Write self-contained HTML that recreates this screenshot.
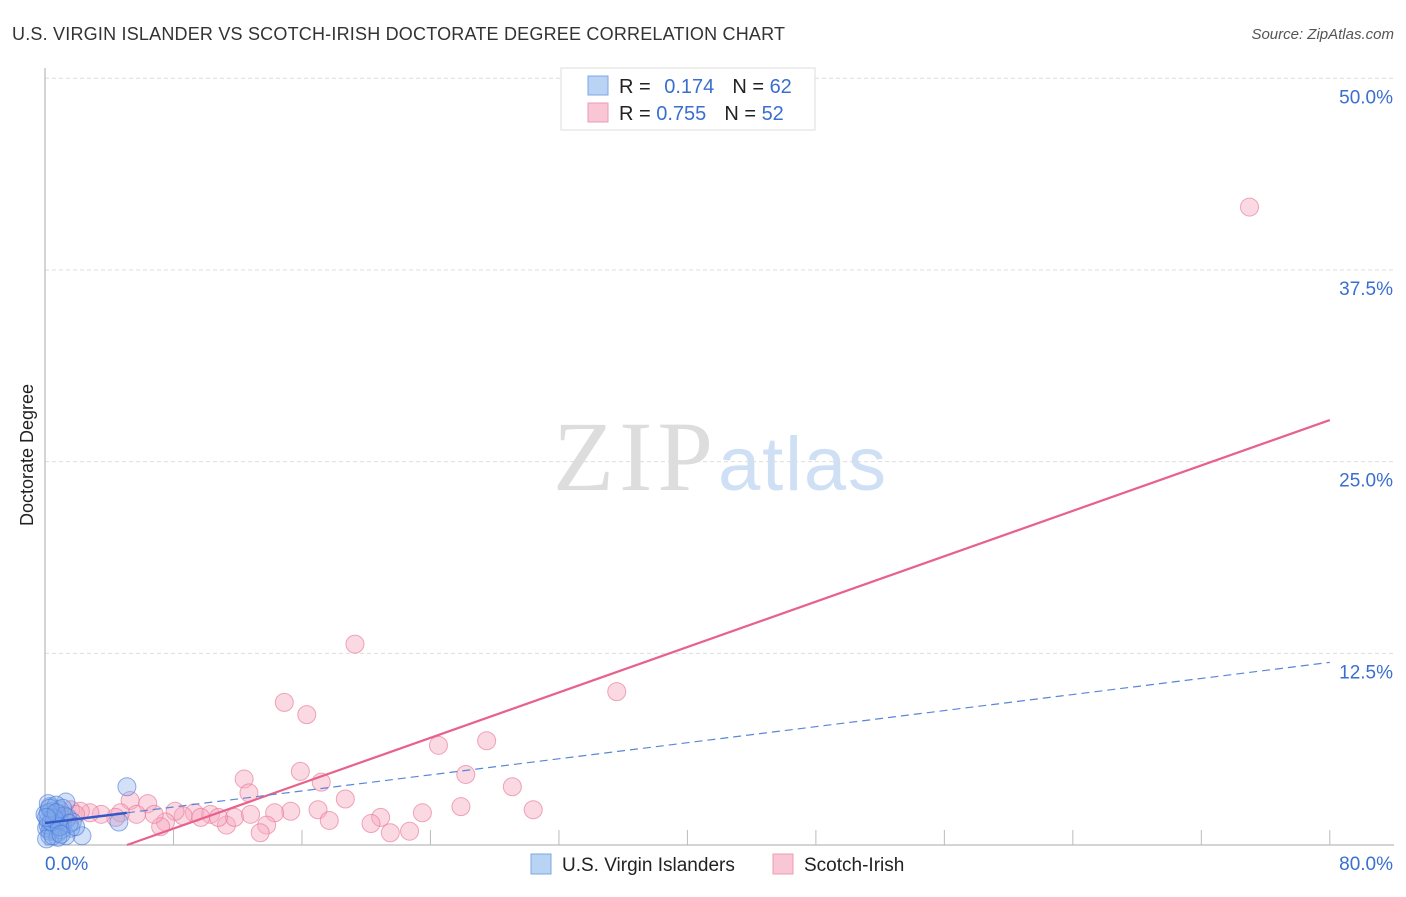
<!DOCTYPE html>
<html><head><meta charset="utf-8"><style>
body{margin:0;background:#fff;width:1406px;height:892px;overflow:hidden;font-family:"Liberation Sans",sans-serif}
</style></head><body>
<svg width="1406" height="892" xmlns="http://www.w3.org/2000/svg">
<text x="12" y="40" font-size="18" fill="#333" textLength="773">U.S. VIRGIN ISLANDER VS SCOTCH-IRISH DOCTORATE DEGREE CORRELATION CHART</text>
<text x="1394" y="39" font-size="15" font-style="italic" fill="#555" text-anchor="end">Source: ZipAtlas.com</text>
<text x="33" y="455" font-size="18" fill="#222" text-anchor="middle" transform="rotate(-90 33 455)">Doctorate Degree</text>
<text x="553" y="490" font-size="100" font-family="Liberation Serif,serif" fill="#ddd" textLength="160">ZIP</text>
<text x="718" y="490" font-size="76" fill="#cfe0f5" textLength="168">atlas</text>
<g id="grid"></g><g id="axes"></g><g id="pts"></g><g id="lines"></g>
<g>
<rect x="561" y="68" width="254" height="62" fill="#fff" stroke="#ddd"/>
<rect x="588" y="76" width="20" height="19" fill="#b9d3f5" stroke="#7aa7e6"/>
<rect x="588" y="103" width="20" height="19" fill="#f8c6d4" stroke="#ee9bb4"/>
<text x="619" y="93" font-size="20" fill="#222">R = <tspan fill="#3a6fcf" dx="8">0.174</tspan><tspan fill="#222" dx="18">N = </tspan><tspan fill="#3a6fcf">62</tspan></text>
<text x="619" y="120" font-size="20" fill="#222">R = <tspan fill="#3a6fcf">0.755</tspan><tspan fill="#222" dx="18">N = </tspan><tspan fill="#3a6fcf">52</tspan></text>
</g>
<g>
<rect x="531" y="854" width="20" height="20" fill="#b9d3f5" stroke="#7aa7e6"/>
<text x="562" y="871" font-size="19" fill="#222">U.S. Virgin Islanders</text>
<rect x="773" y="854" width="20" height="20" fill="#f8c6d4" stroke="#ee9bb4"/>
<text x="804" y="871" font-size="19" fill="#222">Scotch-Irish</text>
</g>
</svg>
<script>
const yTicks=[12.5,25,37.5,50];
const yTickLabels=["12.5%","25.0%","37.5%","50.0%"];
const xTicks=[8,16,24,32,40,48,56,64,72,80];
const pinkX=[75.0,19.3,35.6,14.9,16.3,24.5,27.5,12.4,15.9,26.2,17.2,29.1,12.7,18.7,5.3,6.4,25.9,30.4,15.3,17.0,14.3,23.5,20.9,20.3,17.7,13.8,11.3,13.4,21.5,22.7,11.8,10.3,9.3,8.6,8.1,7.5,7.2,6.8,5.7,4.7,4.4,3.5,2.8,2.2,1.6,1.9,0.9,0.6,9.7,10.8,12.8,1.3];
const pinkY=[41.6,13.1,10.0,9.3,8.5,6.5,6.8,4.3,4.8,4.6,4.1,3.8,3.4,3.0,2.9,2.7,2.5,2.3,2.2,2.3,2.1,2.1,1.8,1.4,1.6,1.3,1.3,0.8,0.8,0.9,1.8,2.0,2.1,1.9,2.2,1.5,1.2,2.0,2.0,2.1,1.8,2.0,2.1,2.2,2.3,2.0,2.0,2.1,1.8,1.8,2.0,1.6];
const blueX=[5.1,4.6,2.3,1.3,0.9,0.3,0.6,0.2,0.4,0.8,0.1,1.1,1.6,1.3,0.3,0.6,0.0,0.4,0.9,1.4,1.7,0.2,0.7,1.1,0.5,0.2,1.0,0.3,0.8,0.1,0.5,1.2,0.4,0.6,0.2,1.5,0.9,0.3,0.7,0.1,1.9,1.0];
const blueY=[3.8,1.5,0.6,2.8,2.3,2.5,2.0,1.6,1.0,0.8,1.1,1.3,1.1,0.6,0.6,1.3,2.0,2.2,1.6,1.8,1.5,2.7,2.6,2.4,1.8,1.3,1.0,0.9,0.5,0.4,0.6,1.9,1.5,1.7,2.1,1.4,1.2,2.4,2.1,1.8,1.2,0.7];
const pinkFit=[-1.89,0.370];
const blueFit=[1.43,0.131];
const X=v=>45+v*16.06, Y=v=>845-v*15.335;
const NS="http://www.w3.org/2000/svg";
function mk(tag,attrs,parent){const e=document.createElementNS(NS,tag);for(const k in attrs)e.setAttribute(k,attrs[k]);document.getElementById(parent).appendChild(e);return e;}
yTicks.forEach((t,i)=>{
 const g=mk('line',{x1:45,x2:1394,y1:Y(t),y2:Y(t),stroke:'#ddd','stroke-dasharray':'4,3'},'grid');
 
 
 const l=mk('text',{x:1393,y:Y(t)+25,'font-size':19,fill:'#3a6fcf','text-anchor':'end'},'axes');
 l.textContent=yTickLabels[i];
 
 
});
const ax=mk('line',{x1:45,x2:45,y1:68,y2:845,stroke:'#aaa'},'axes');


const bx=mk('line',{x1:45,x2:1394,y1:845,y2:845,stroke:'#aaa'},'axes');


xTicks.forEach(t=>{
 const k=mk('line',{x1:X(t),x2:X(t),y1:830,y2:845,stroke:'#bbb'},'axes');
 
 
});
const x0=mk('text',{x:45,y:870,'font-size':19,fill:'#3a6fcf'},'axes');x0.textContent='0.0%';


const x1=mk('text',{x:1393,y:870,'font-size':19,fill:'#3a6fcf','text-anchor':'end'},'axes');x1.textContent='80.0%';


pinkX.forEach((v,i)=>{
 const c=mk('circle',{cx:X(v),cy:Y(pinkY[i]),r:9,fill:'rgba(246,170,192,0.45)',stroke:'rgba(232,120,155,0.65)'},'pts');
 
 
});
blueX.forEach((v,i)=>{
 const c=mk('circle',{cx:X(v),cy:Y(blueY[i]),r:9,fill:'rgba(130,170,235,0.35)',stroke:'rgba(70,120,215,0.6)'},'pts');
 
 
});
const px0=-pinkFit[0]/pinkFit[1];
const pl=mk('line',{x1:X(px0),y1:Y(0),x2:X(80),y2:Y(pinkFit[0]+pinkFit[1]*80),stroke:'#e8618c','stroke-width':2.2},'lines');


const bs=mk('line',{x1:X(0),y1:Y(blueFit[0]),x2:X(5.1),y2:Y(blueFit[0]+blueFit[1]*5.1),stroke:'#3558c8','stroke-width':2.5},'lines');


const bd=mk('line',{x1:X(5.1),y1:Y(blueFit[0]+blueFit[1]*5.1),x2:X(80),y2:Y(blueFit[0]+blueFit[1]*80),stroke:'#5a86d6','stroke-width':1.2,'stroke-dasharray':'8,5'},'lines');


</script>
</body></html>
